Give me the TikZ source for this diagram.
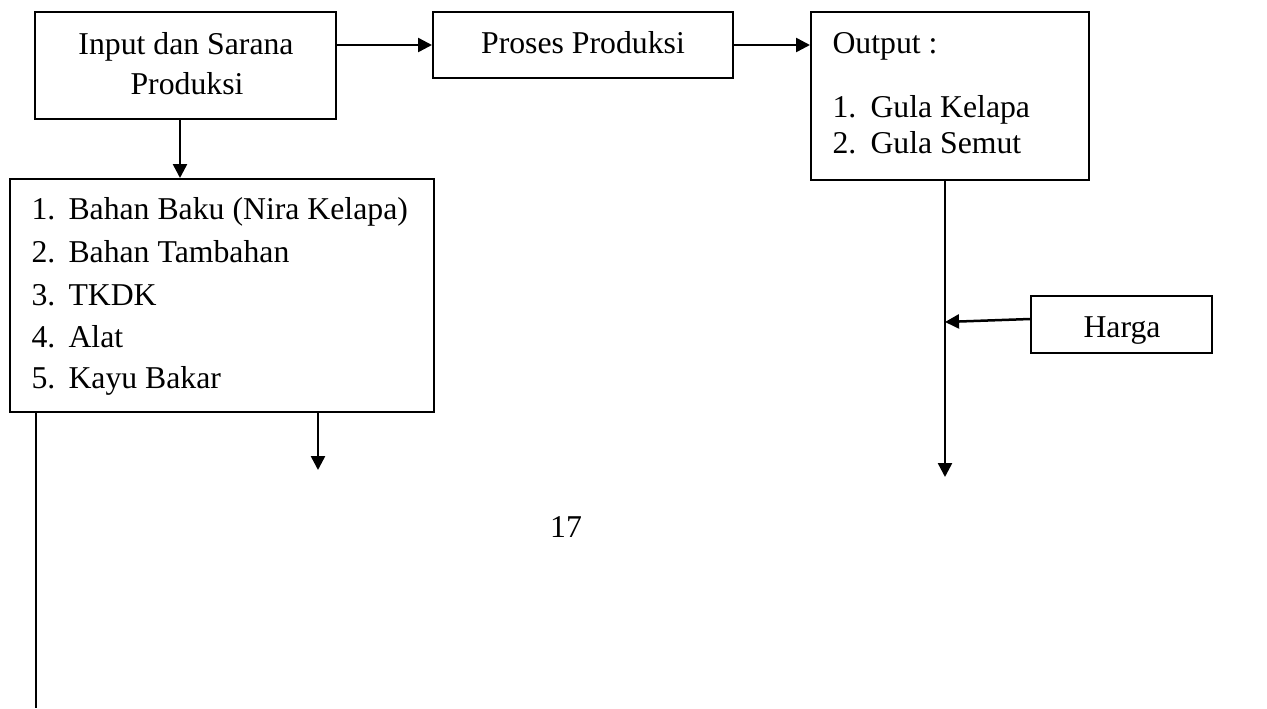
\documentclass[tikz,border=0pt]{standalone}
\usepackage{fontspec}
\setmainfont{Liberation Serif}
\usetikzlibrary{arrows.meta}
\begin{document}
\begin{tikzpicture}[x=0.4pt,y=-0.4pt,
  bx/.style={draw,line width=0.8pt,rectangle,inner sep=0pt},
  tx/.style={inner sep=0pt,anchor=base west,font=\fontsize{12.7}{15}\selectfont},
  txc/.style={inner sep=0pt,anchor=base,font=\fontsize{12.7}{15}\selectfont},
  arr/.style={line width=1pt,-{Triangle[length=5.6pt,width=5.6pt]}},
  ln/.style={line width=1pt}]
\useasboundingbox (0,0) rectangle (1267,708);
% boxes
\node[bx,minimum width={301*0.4pt},minimum height={107*0.4pt}] (box1) at (185.5,65.5) {};
\node[bx,minimum width={300*0.4pt},minimum height={66*0.4pt}] (proses) at (583,45) {};
\node[bx,minimum width={278*0.4pt},minimum height={168*0.4pt}] (output) at (950,96) {};
\node[bx,minimum width={424*0.4pt},minimum height={233*0.4pt}] (box2) at (222,295.5) {};
\node[bx,minimum width={181*0.4pt},minimum height={57*0.4pt}] (harga) at (1121.5,324.5) {};
% texts
\node[txc] (t1a) at (186,54) {Input dan Sarana};
\node[txc] (t1b) at (187,94) {Produksi};
\node[txc] (tp) at (583,53) {Proses Produksi};
\node[tx] (to) at (832,53) {Output :};
\node[tx] (to1n) at (832,117) {1.};
\node[tx] (to1) at (870,117) {Gula Kelapa};
\node[tx] (to2n) at (832,153) {2.};
\node[tx] (to2) at (870,153) {Gula Semut};
\node[tx] (l1n) at (31,219) {1.};
\node[tx] (l1) at (68,219) {Bahan Baku (Nira Kelapa)};
\node[tx] (l2n) at (31,262) {2.};
\node[tx] (l2) at (68,262) {Bahan Tambahan};
\node[tx] (l3n) at (31,305) {3.};
\node[tx] (l3) at (68,305) {TKDK};
\node[tx] (l4n) at (31,347) {4.};
\node[tx] (l4) at (68,347) {Alat};
\node[tx] (l5n) at (31,388) {5.};
\node[tx] (l5) at (68,388) {Kayu Bakar};
\node[txc] (th) at (1122,337) {Harga};
\node[txc] (pg) at (566,537) {17};
% coordinates for free ends
\coordinate (out1) at (945,477);
\coordinate (b2arr) at (318,470);
\coordinate (leftend) at (36,708);
\coordinate (b1x) at (180,0);
% connectors
\draw[arr] (box1.south -| b1x) -- (box2.north -| b1x);
\draw[arr] (proses.west -| box1.east) -- (proses.west);
\draw[arr] (proses.east) -- (proses.east -| output.west);
\draw[arr] (output.south -| out1) -- (out1);
\draw[arr] ([yshift=2.2pt]harga.west) -- ([yshift=1pt]harga.west -| out1);
\draw[ln] (box2.south -| leftend) -- (leftend);
\draw[arr] (box2.south -| b2arr) -- (b2arr);
\end{tikzpicture}
\end{document}
